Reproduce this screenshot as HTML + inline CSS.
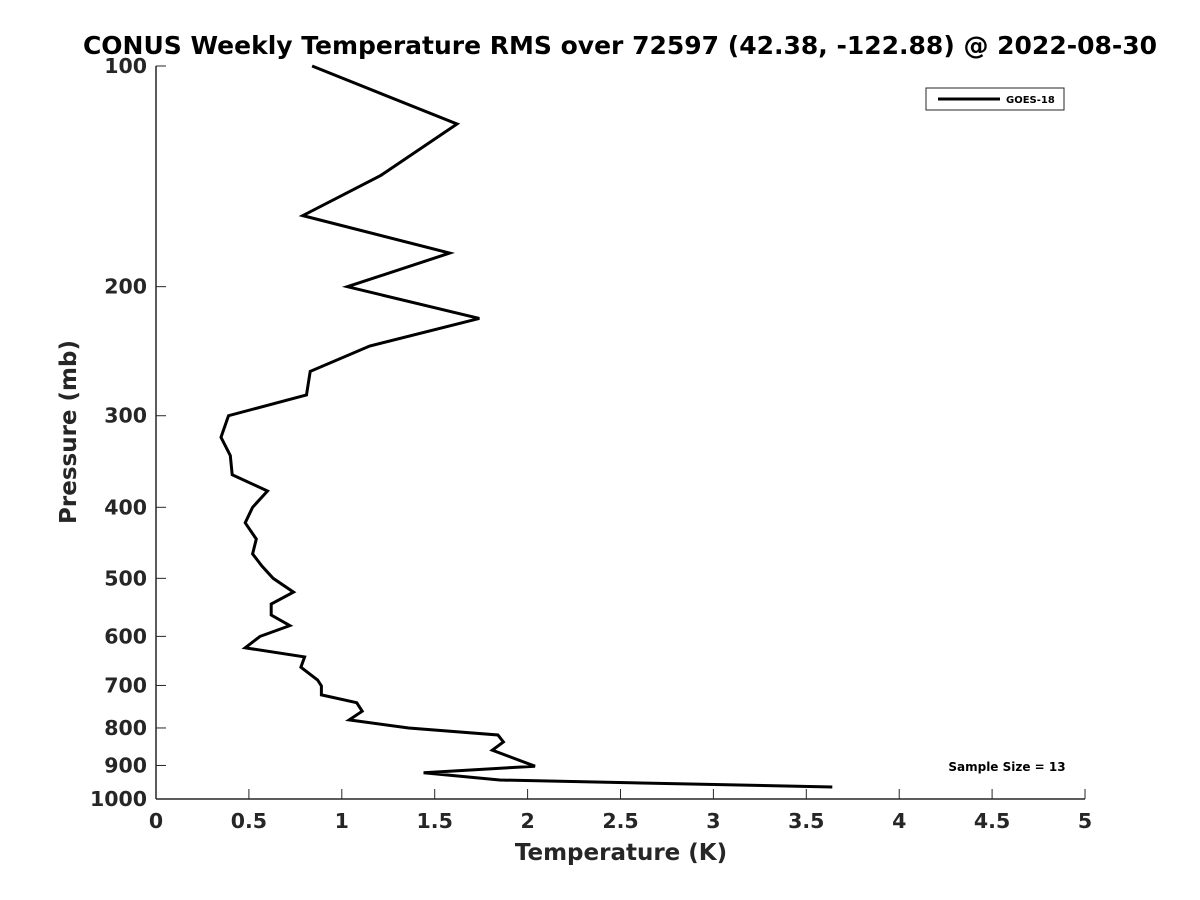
<!DOCTYPE html>
<html><head><meta charset="utf-8"><style>
body{margin:0;background:#fff;}
svg{display:block;font-family:"DejaVu Sans","Liberation Sans",sans-serif;}
</style></head><body>
<svg id="chart" width="1200" height="900" viewBox="0 0 1200 900">
<rect width="1200" height="900" fill="#fff"/>
<text x="620" y="54" text-anchor="middle" font-size="25" font-weight="bold" fill="#000">CONUS Weekly Temperature RMS over 72597 (42.38, -122.88) @ 2022-08-30</text>
<g id="axes"></g>
<polyline id="line" fill="none" stroke="#000" stroke-width="3" stroke-linejoin="miter"/>
<text x="621" y="860" text-anchor="middle" font-size="23" font-weight="bold" fill="#262626">Temperature (K)</text>
<text transform="translate(76,432) rotate(-90)" text-anchor="middle" font-size="23" font-weight="bold" fill="#262626">Pressure (mb)</text>
<g>
<rect x="926" y="88" width="138" height="22" fill="#fff" stroke="#262626" stroke-width="1"/>
<line x1="938" y1="99" x2="1000" y2="99" stroke="#000" stroke-width="3"/>
<text x="1006" y="103" font-size="10" font-weight="bold" fill="#000">GOES-18</text>
</g>
<text x="1007" y="771" text-anchor="middle" font-size="12" font-weight="bold" fill="#000">Sample Size = 13</text>
</svg>
<script>
const temps = [0.84,1.62,1.21,0.79,1.58,1.03,1.74,1.15,0.83,0.81,0.39,0.35,0.40,0.41,0.60,0.52,0.48,0.54,0.52,0.57,0.63,0.74,0.62,0.62,0.72,0.56,0.48,0.80,0.78,0.87,0.89,0.89,1.08,1.11,1.04,1.36,1.84,1.87,1.81,2.04,1.44,1.85,3.64];
const pressures = [100,120,141,160,180,200,221,241,261,281,300,321,340,361,380,400,420,442,463,481,500,522,542,561,580,600,622,640,661,688,701,721,739,759,780,800,818,836,858,902,921,942,963];
const xTicks = [0,0.5,1,1.5,2,2.5,3,3.5,4,4.5,5];
const xTickLabels = ["0","0.5","1","1.5","2","2.5","3","3.5","4","4.5","5"];
const yTicks = [100,200,300,400,500,600,700,800,900,1000];
const yTickLabels = ["100","200","300","400","500","600","700","800","900","1000"];

const X0=156,X1=1085,Y0=66,Y1=799;
function xs(v){return X0+(v-0)/(5-0)*(X1-X0);}
function ys(p){return Y0+Math.log10(p/100)/Math.log10(10)*(Y1-Y0);}
const NS="http://www.w3.org/2000/svg";
const axes=document.getElementById('axes');
function mk(tag,attrs){const e=document.createElementNS(NS,tag);for(const k in attrs)e.setAttribute(k,attrs[k]);return e;}
let ax=mk('line',{x1:X0,y1:Y1,x2:X1,y2:Y1,stroke:'#262626','stroke-width':1.5});


axes.appendChild(ax);
let ay=mk('line',{x1:X0,y1:Y0,x2:X0,y2:Y1,stroke:'#262626','stroke-width':1.5});


axes.appendChild(ay);
xTicks.forEach((v,i)=>{
  const x=xs(v);
  const t=mk('line',{x1:x,y1:Y1,x2:x,y2:Y1-10,stroke:'#262626','stroke-width':1});
  
  
  axes.appendChild(t);
  const l=mk('text',{x:x,y:Y1+29,'text-anchor':'middle','font-size':20.5,'font-weight':'bold',fill:'#262626'});
  l.textContent=xTickLabels[i];
  
  
  axes.appendChild(l);
});
yTicks.forEach((v,i)=>{
  const y=ys(v);
  const t=mk('line',{x1:X0,y1:y,x2:X0+10,y2:y,stroke:'#262626','stroke-width':1});
  
  
  axes.appendChild(t);
  const l=mk('text',{x:X0-9,y:y+7,'text-anchor':'end','font-size':20.5,'font-weight':'bold',fill:'#262626'});
  l.textContent=yTickLabels[i];
  
  
  axes.appendChild(l);
});
document.getElementById('line').setAttribute('points',temps.map((t,i)=>xs(t).toFixed(1)+','+ys(pressures[i]).toFixed(1)).join(' '));
</script>
</body></html>
